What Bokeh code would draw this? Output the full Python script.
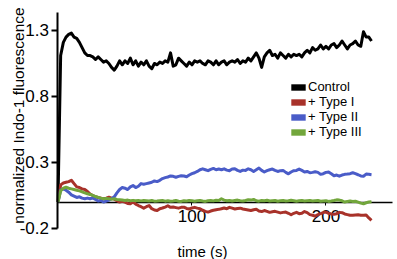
import math
from bokeh.plotting import figure
from bokeh.models import Range1d, FixedTicker, Legend, LegendItem, Label
from bokeh.embed import file_html
from bokeh.resources import INLINE

# ---- data ----
time_s = [2 * i for i in range(118)]  # sample times, 0..234 s

control = [0.0, 1.11, 1.21, 1.25, 1.27, 1.28, 1.25, 1.24, 1.21, 1.17,
           1.13, 1.11, 1.11, 1.10, 1.08, 1.10, 1.08, 1.06, 1.07, 1.05,
           1.02, 1.00, 1.03, 1.07, 1.04, 1.07, 1.05, 1.09, 1.04, 1.07,
           1.03, 1.06, 1.04, 1.07, 1.03, 1.01, 1.05, 1.04, 1.06, 1.05,
           1.07, 1.06, 1.13, 1.03, 1.04, 1.09, 1.07, 1.05, 1.03, 1.06,
           1.04, 1.07, 1.06, 1.07, 1.05, 1.04, 1.07, 1.06, 1.04, 1.07,
           1.04, 1.06, 1.07, 1.04, 1.06, 1.07, 1.06, 1.08, 1.05, 1.07,
           1.06, 1.09, 1.07, 1.10, 1.13, 1.09, 1.02, 1.10, 1.13, 1.15,
           1.11, 1.12, 1.09, 1.13, 1.11, 1.09, 1.12, 1.10, 1.12, 1.11,
           1.12, 1.10, 1.13, 1.15, 1.13, 1.17, 1.15, 1.16, 1.19, 1.16,
           1.18, 1.16, 1.19, 1.20, 1.17, 1.19, 1.22, 1.19, 1.16, 1.19,
           1.20, 1.22, 1.19, 1.18, 1.29, 1.25, 1.25, 1.22]

type_1 = [0.0, 0.13, 0.145, 0.15, 0.155, 0.165, 0.14, 0.115, 0.11, 0.10,
          0.095, 0.08, 0.06, 0.05, 0.04, 0.035, 0.03, 0.025, 0.03, 0.037,
          0.03, 0.022, 0.01, 0.0, 0.005, 0.0, -0.01, -0.013, 0.0, -0.015,
          -0.026, -0.035, -0.046, -0.035, -0.026, -0.05, -0.06, -0.064, -0.05, -0.045,
          -0.038, -0.028, -0.04, -0.038, -0.042, -0.046, -0.04, -0.039, -0.048, -0.052,
          -0.045, -0.04, -0.046, -0.05, -0.062, -0.07, -0.076, -0.068, -0.062, -0.058,
          -0.055, -0.05, -0.045, -0.05, -0.04, -0.046, -0.052, -0.048, -0.046, -0.052,
          -0.056, -0.06, -0.064, -0.058, -0.055, -0.068, -0.072, -0.064, -0.07, -0.078,
          -0.074, -0.07, -0.076, -0.082, -0.078, -0.076, -0.085, -0.096, -0.085, -0.078,
          -0.088, -0.085, -0.072, -0.08, -0.095, -0.1, -0.107, -0.095, -0.088, -0.08,
          -0.076, -0.085, -0.09, -0.092, -0.088, -0.078, -0.08, -0.09, -0.095, -0.1,
          -0.1, -0.098, -0.096, -0.1, -0.1, -0.098, -0.12, -0.139]

type_2 = [0.0, 0.09, 0.10, 0.09, 0.075, 0.055, 0.045, 0.035, 0.04, 0.03,
          0.025, 0.03, 0.025, 0.032, 0.02, 0.008, 0.012, 0.0, 0.008, 0.015,
          0.025, 0.04, 0.07, 0.095, 0.11, 0.105, 0.095, 0.115, 0.125, 0.11,
          0.12, 0.14, 0.135, 0.14, 0.145, 0.15, 0.16, 0.155, 0.165, 0.178,
          0.185, 0.19, 0.198, 0.195, 0.188, 0.195, 0.20, 0.198, 0.192, 0.205,
          0.215, 0.222, 0.232, 0.245, 0.252, 0.245, 0.238, 0.248, 0.255, 0.245,
          0.25, 0.245, 0.252, 0.242, 0.238, 0.25, 0.252, 0.24, 0.232, 0.242,
          0.24, 0.252, 0.245, 0.232, 0.245, 0.258, 0.24, 0.228, 0.238, 0.245,
          0.25, 0.24, 0.232, 0.238, 0.24, 0.225, 0.214, 0.228, 0.238, 0.24,
          0.25, 0.24, 0.228, 0.232, 0.222, 0.225, 0.23, 0.225, 0.21, 0.215,
          0.225, 0.227, 0.215, 0.20, 0.205, 0.196, 0.205, 0.21, 0.212, 0.215,
          0.222, 0.215, 0.207, 0.198, 0.196, 0.212, 0.21, 0.207]

type_3 = [0.0, 0.085, 0.105, 0.112, 0.105, 0.1, 0.095, 0.09, 0.085, 0.078,
          0.07, 0.063, 0.058, 0.05, 0.042, 0.036, 0.03, 0.025, 0.028, 0.025,
          0.022, 0.025, 0.02, 0.018, 0.015, 0.012, 0.015, 0.01, 0.013, 0.01,
          0.012, 0.009, 0.012, 0.01, 0.008, 0.012, 0.007, 0.008, 0.01, 0.012,
          0.007, 0.01, 0.006, 0.008, 0.012, 0.006, 0.005, 0.01, 0.008, 0.012,
          0.01, 0.007, 0.01, 0.012, 0.008, 0.005, 0.01, 0.012, 0.009, 0.014,
          0.012, 0.025, 0.015, 0.01, 0.012, 0.008, 0.012, 0.015, 0.01, 0.008,
          0.012, 0.018, 0.015, 0.02, 0.01, 0.007, 0.012, 0.01, 0.014, 0.008,
          0.01, 0.012, 0.006, 0.01, 0.012, 0.008, 0.01, 0.014, 0.01, 0.006,
          0.01, 0.012, 0.008, 0.01, 0.012, 0.008, 0.01, 0.012, 0.006, 0.008,
          0.01, 0.005, 0.008, 0.012, 0.017, 0.015, 0.01, 0.0, 0.005, 0.008,
          0.004, 0.006, 0.0, -0.008, -0.013, -0.005, 0.0, 0.003]

series_names = ["Control", "+ Type I", "+ Type II", "+ Type III"]
y_ticks = [-0.2, 0.3, 0.8, 1.3]
y_tick_labels = ["-0.2", "0.3", "0.8", "1.3"]
x_ticks = [100, 200]
x_title = "time (s)"
y_title = "normalized Indo-1 fluorescence"

# ---- styling ----
FONT = "Liberation Sans"
colors = ["#000000", "#a8322a", "#4a5cc8", "#72a63c"]
widths = [3, 3, 3, 3]
W, H = 397, 259

# the frame covers the whole canvas; axes sit at x=0 / y=0 inside it
p = figure(width=W, height=H, output_backend="svg", toolbar_location=None,
           x_range=Range1d(-42.9, 253.4), y_range=Range1d(-0.435, 1.527),
           min_border=0)
p.outline_line_color = None
p.xgrid.visible = False
p.ygrid.visible = False
p.background_fill_color = "white"
p.border_fill_color = "white"

xa = p.xaxis[0]
xa.fixed_location = 0
xa.bounds = (-0.37, 249.6)
xa.ticker = FixedTicker(ticks=x_ticks)
xa.major_tick_out = 3
xa.major_tick_in = 0
xa.minor_tick_out = 0
xa.minor_tick_in = 0
xa.axis_line_width = 1.5
xa.axis_line_color = "black"
xa.major_tick_line_color = "black"
xa.major_label_text_font = FONT
xa.major_label_text_font_size = "17px"
xa.major_label_text_color = "black"
xa.major_label_standoff = 5
xa.level = "underlay"

ya = p.yaxis[0]
ya.fixed_location = 0
ya.bounds = (-0.2, 1.436)
ya.ticker = FixedTicker(ticks=y_ticks)
ya.major_label_overrides = {t: s for t, s in zip(y_ticks, y_tick_labels)}
ya.axis_line_width = 2
ya.axis_line_color = "black"
ya.major_tick_out = 6
ya.major_tick_in = 0
ya.minor_tick_out = 0
ya.minor_tick_in = 0
ya.major_tick_line_width = 2
ya.major_tick_line_color = "black"
ya.major_label_standoff = 3
ya.major_label_text_font = FONT
ya.major_label_text_font_size = "17px"
ya.major_label_text_color = "black"

all_series = [control, type_1, type_2, type_3]
for vals, c, w in zip(all_series, colors, widths):
    p.line(time_s, vals, line_color=c, line_width=w, line_join="round")

# zero-height areas on the same data, used only for the filled legend swatches
swatches = []
for vals, c in zip(all_series, colors):
    swatches.append(p.varea(x=time_s, y1=vals, y2=vals, fill_color=c, fill_alpha=1))

# one legend per row so that the rows sit as tightly as in the reference
row_bottoms = [165, 150, 135, 120]
for name, r, yb in zip(series_names, swatches, row_bottoms):
    lg = Legend(items=[LegendItem(label=name, renderers=[r])], location=(289, yb),
                glyph_width=18, glyph_height=8, label_standoff=1, spacing=0,
                padding=0, margin=0, label_height=10,
                label_text_font=FONT, label_text_font_size="13px",
                label_text_color="black",
                border_line_alpha=0, background_fill_alpha=0)
    p.add_layout(lg)

p.add_layout(Label(x=18, y=H - 115, x_units="screen", y_units="screen", text=y_title,
                   angle=math.pi / 2, text_align="center", text_baseline="alphabetic",
                   text_font=FONT, text_font_size="15.5px", text_color="black"))
p.add_layout(Label(x=202, y=H - 251, x_units="screen", y_units="screen", text=x_title,
                   text_align="center", text_baseline="alphabetic",
                   text_font=FONT, text_font_size="15px", text_color="black"))

open("out.html", "w").write(file_html(p, INLINE))
